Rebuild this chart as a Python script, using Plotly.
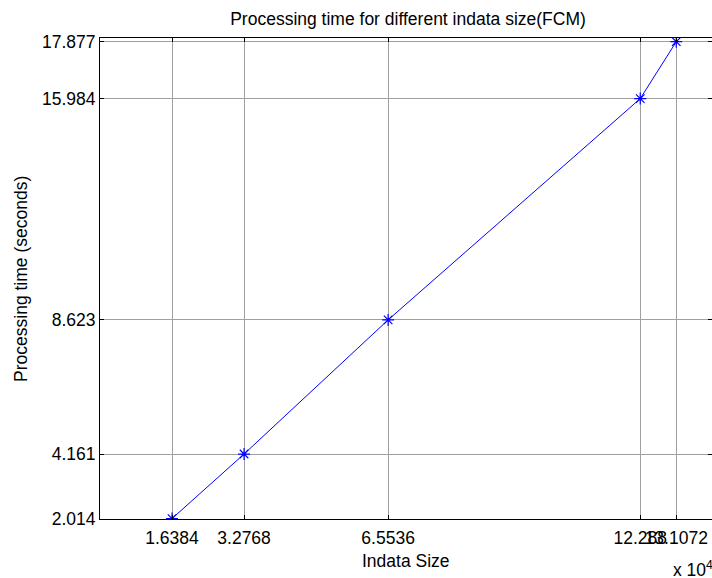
import plotly.graph_objects as go

# Input sizes (number of data points) and measured FCM processing times
indata_size = [16384, 32768, 65536, 122880, 131072]
proc_time = [2.014, 4.161, 8.623, 15.984, 17.877]

# Axis ticks sit at the measured values (sizes shown in units of 10^4)
x_scaled = [s / 1e4 for s in indata_size]
x_ticktext = ["1.6384", "3.2768", "6.5536", "12.288", "13.1072"]
y_ticktext = [f"{v:.3f}" for v in proc_time]

FONT = "Liberation Sans, Arial, sans-serif"
FS = 17.5
BLUE = "#0000ff"
GRID = "#a0a0a0"

fig = go.Figure()

fig.add_trace(go.Scatter(
    x=x_scaled, y=proc_time,
    mode="lines+markers",
    line=dict(color=BLUE, width=1),
    marker=dict(symbol="asterisk-open", size=10, color=BLUE,
                line=dict(color=BLUE, width=1.2)),
    showlegend=False, hoverinfo="x+y",
))

# Invisible copy on the overlay axes so the top/right tick marks render
fig.add_trace(go.Scatter(
    x=x_scaled, y=proc_time, xaxis="x2", yaxis="y2",
    mode="markers", marker=dict(opacity=0), showlegend=False, hoverinfo="skip",
))

xr = [0, 13.92]
yr = [2, 18]

fig.update_layout(
    width=712, height=578,
    margin=dict(l=100, r=0, t=38, b=59),
    paper_bgcolor="white", plot_bgcolor="white",
    font=dict(family=FONT, size=FS, color="black"),
    title=dict(text="Processing time for different indata size(FCM)",
               x=(408 / 712), xanchor="center", y=1 - 19 / 578, yanchor="middle",
               font=dict(family=FONT, size=FS, color="black")),
    xaxis=dict(
        range=xr, tickmode="array", tickvals=x_scaled, ticktext=x_ticktext,
        tickangle=0, showgrid=True, gridcolor=GRID, gridwidth=1,
        showline=True, linecolor="black", linewidth=1, mirror=True,
        ticks="inside", ticklen=4, tickcolor="black", ticklabelstandoff=3,
        zeroline=False, automargin=False,
        tickfont=dict(family=FONT, size=FS, color="black"),
    ),
    yaxis=dict(
        range=yr, tickmode="array", tickvals=proc_time, ticktext=y_ticktext,
        showgrid=True, gridcolor=GRID, gridwidth=1,
        showline=True, linecolor="black", linewidth=1, mirror=False,
        ticks="inside", ticklen=4, tickcolor="black",
        zeroline=False, automargin=False,
        tickfont=dict(family=FONT, size=FS, color="black"),
    ),
    xaxis2=dict(
        range=xr, overlaying="x", side="top", anchor="y",
        tickmode="array", tickvals=x_scaled, showticklabels=False,
        ticks="inside", ticklen=4, tickcolor="black",
        showgrid=False, showline=False, zeroline=False,
    ),
    yaxis2=dict(
        range=yr, overlaying="y", side="right", anchor="x",
        tickmode="array", tickvals=proc_time, showticklabels=False,
        ticks="inside", ticklen=4, tickcolor="black",
        showgrid=False, showline=False, zeroline=False,
    ),
    annotations=[
        dict(text="Indata Size", xref="paper", yref="paper",
             x=0.5, y=-0.087, xanchor="center", yanchor="middle",
             showarrow=False, font=dict(family=FONT, size=FS, color="black")),
        dict(text="Processing time (seconds)", xref="paper", yref="paper",
             x=-0.13, y=0.5, xanchor="center", yanchor="middle", textangle=-90,
             showarrow=False, font=dict(family=FONT, size=FS, color="black")),
        dict(text="x 10<sup>4</sup>", xref="paper", yref="paper",
             x=0.933, y=-0.104, xanchor="left", yanchor="middle",
             showarrow=False, font=dict(family=FONT, size=FS, color="black")),
    ],
)

fig.write_html("out.html")
